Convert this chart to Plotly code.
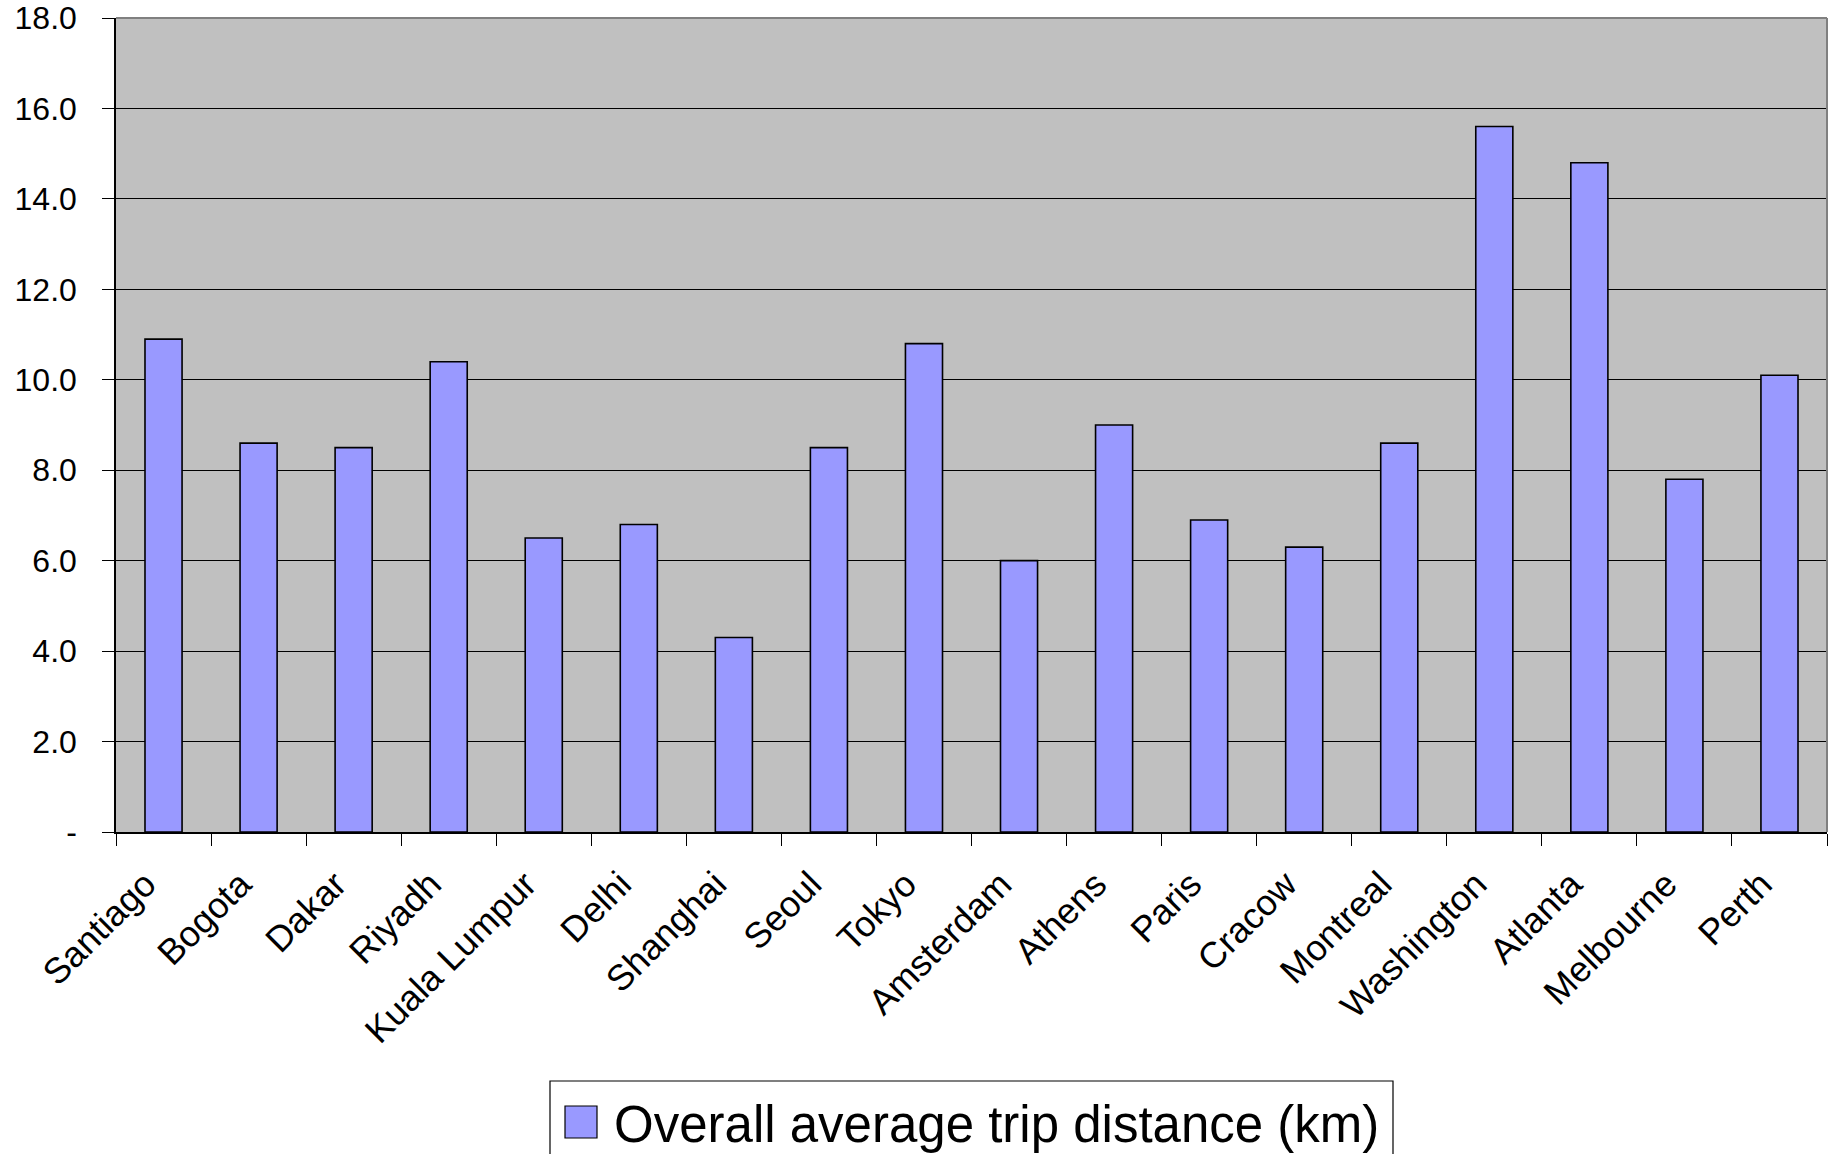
import plotly.graph_objects as go

cities = ["Santiago", "Bogota", "Dakar", "Riyadh", "Kuala Lumpur", "Delhi", "Shanghai",
          "Seoul", "Tokyo", "Amsterdam", "Athens", "Paris", "Cracow", "Montreal",
          "Washington", "Atlanta", "Melbourne", "Perth"]
distance_km = [10.9, 8.6, 8.5, 10.4, 6.5, 6.8, 4.3, 8.5, 10.8, 6.0, 9.0, 6.9, 6.3, 8.6,
               15.6, 14.8, 7.8, 10.1]
y_tick_vals = [0, 2, 4, 6, 8, 10, 12, 14, 16, 18]
y_tick_text = ["-", "2.0", "4.0", "6.0", "8.0", "10.0", "12.0", "14.0", "16.0", "18.0"]
series_name = "Overall average trip distance (km)"

FONT = "Liberation Sans, Arial, sans-serif"

W, H = 1828, 1154
# plot area in page pixels: x 116..1827, y 18..832
PL, PR, PT, PB = 116, 1827, 18, 832
PW, PH = PR - PL, PB - PT


def px(x):
    return (x - PL) / PW


def py(y):
    return (PB - y) / PH


fig = go.Figure()
fig.add_trace(go.Bar(
    x=cities, y=distance_km, name=series_name,
    marker=dict(color="#9999FF", line=dict(color="black", width=1.6)),
    width=0.39, showlegend=False,
))

fig.update_layout(
    width=W, height=H,
    margin=dict(l=PL, r=W - PR, t=PT, b=H - PB),
    paper_bgcolor="white", plot_bgcolor="#C0C0C0",
    font=dict(family=FONT, size=32, color="black"),
    xaxis=dict(
        automargin=False,
        tickangle=-45, tickson="boundaries", ticks="outside", ticklen=12,
        tickcolor="black", tickwidth=1, showgrid=False,
        showline=True, linecolor="black", linewidth=1.5,
        ticklabelstandoff=15, ticklabelshift=-18,
        tickfont=dict(family=FONT, size=36, color="black"),
    ),
    yaxis=dict(
        automargin=False,
        range=[0, 18], tickvals=y_tick_vals, ticktext=y_tick_text,
        ticks="outside", ticklen=12, tickcolor="black", tickwidth=1,
        showgrid=True, gridcolor="black", gridwidth=1,
        showline=True, linecolor="black", linewidth=1.5,
        zeroline=False, ticklabelstandoff=19, ticklabeloverflow="allow",
        tickfont=dict(family=FONT, size=32, color="black"),
    ),
)

# top/right plot border in grey
fig.add_shape(type="line", xref="paper", yref="paper", x0=0, x1=1, y0=1, y1=1,
              line=dict(color="#808080", width=2))
fig.add_shape(type="line", xref="paper", yref="paper", x0=1, x1=1, y0=0, y1=1,
              line=dict(color="#808080", width=2))

# custom legend
fig.add_shape(type="rect", xref="paper", yref="paper",
              x0=px(550), x1=px(1393), y0=py(1081), y1=py(1175),
              line=dict(color="black", width=1.2), fillcolor="white")
fig.add_shape(type="rect", xref="paper", yref="paper",
              x0=px(565), x1=px(597), y0=py(1106), y1=py(1138),
              line=dict(color="black", width=1.2), fillcolor="#9999FF")
fig.add_annotation(xref="paper", yref="paper", x=px(612), y=py(1124),
                   xanchor="left", yanchor="middle", showarrow=False,
                   text=series_name, font=dict(family=FONT, size=51, color="black"))

fig.write_html("out.html",
               config={"displayModeBar": False},
               post_script="document.body.style.margin='0';document.body.style.overflow='hidden';")
